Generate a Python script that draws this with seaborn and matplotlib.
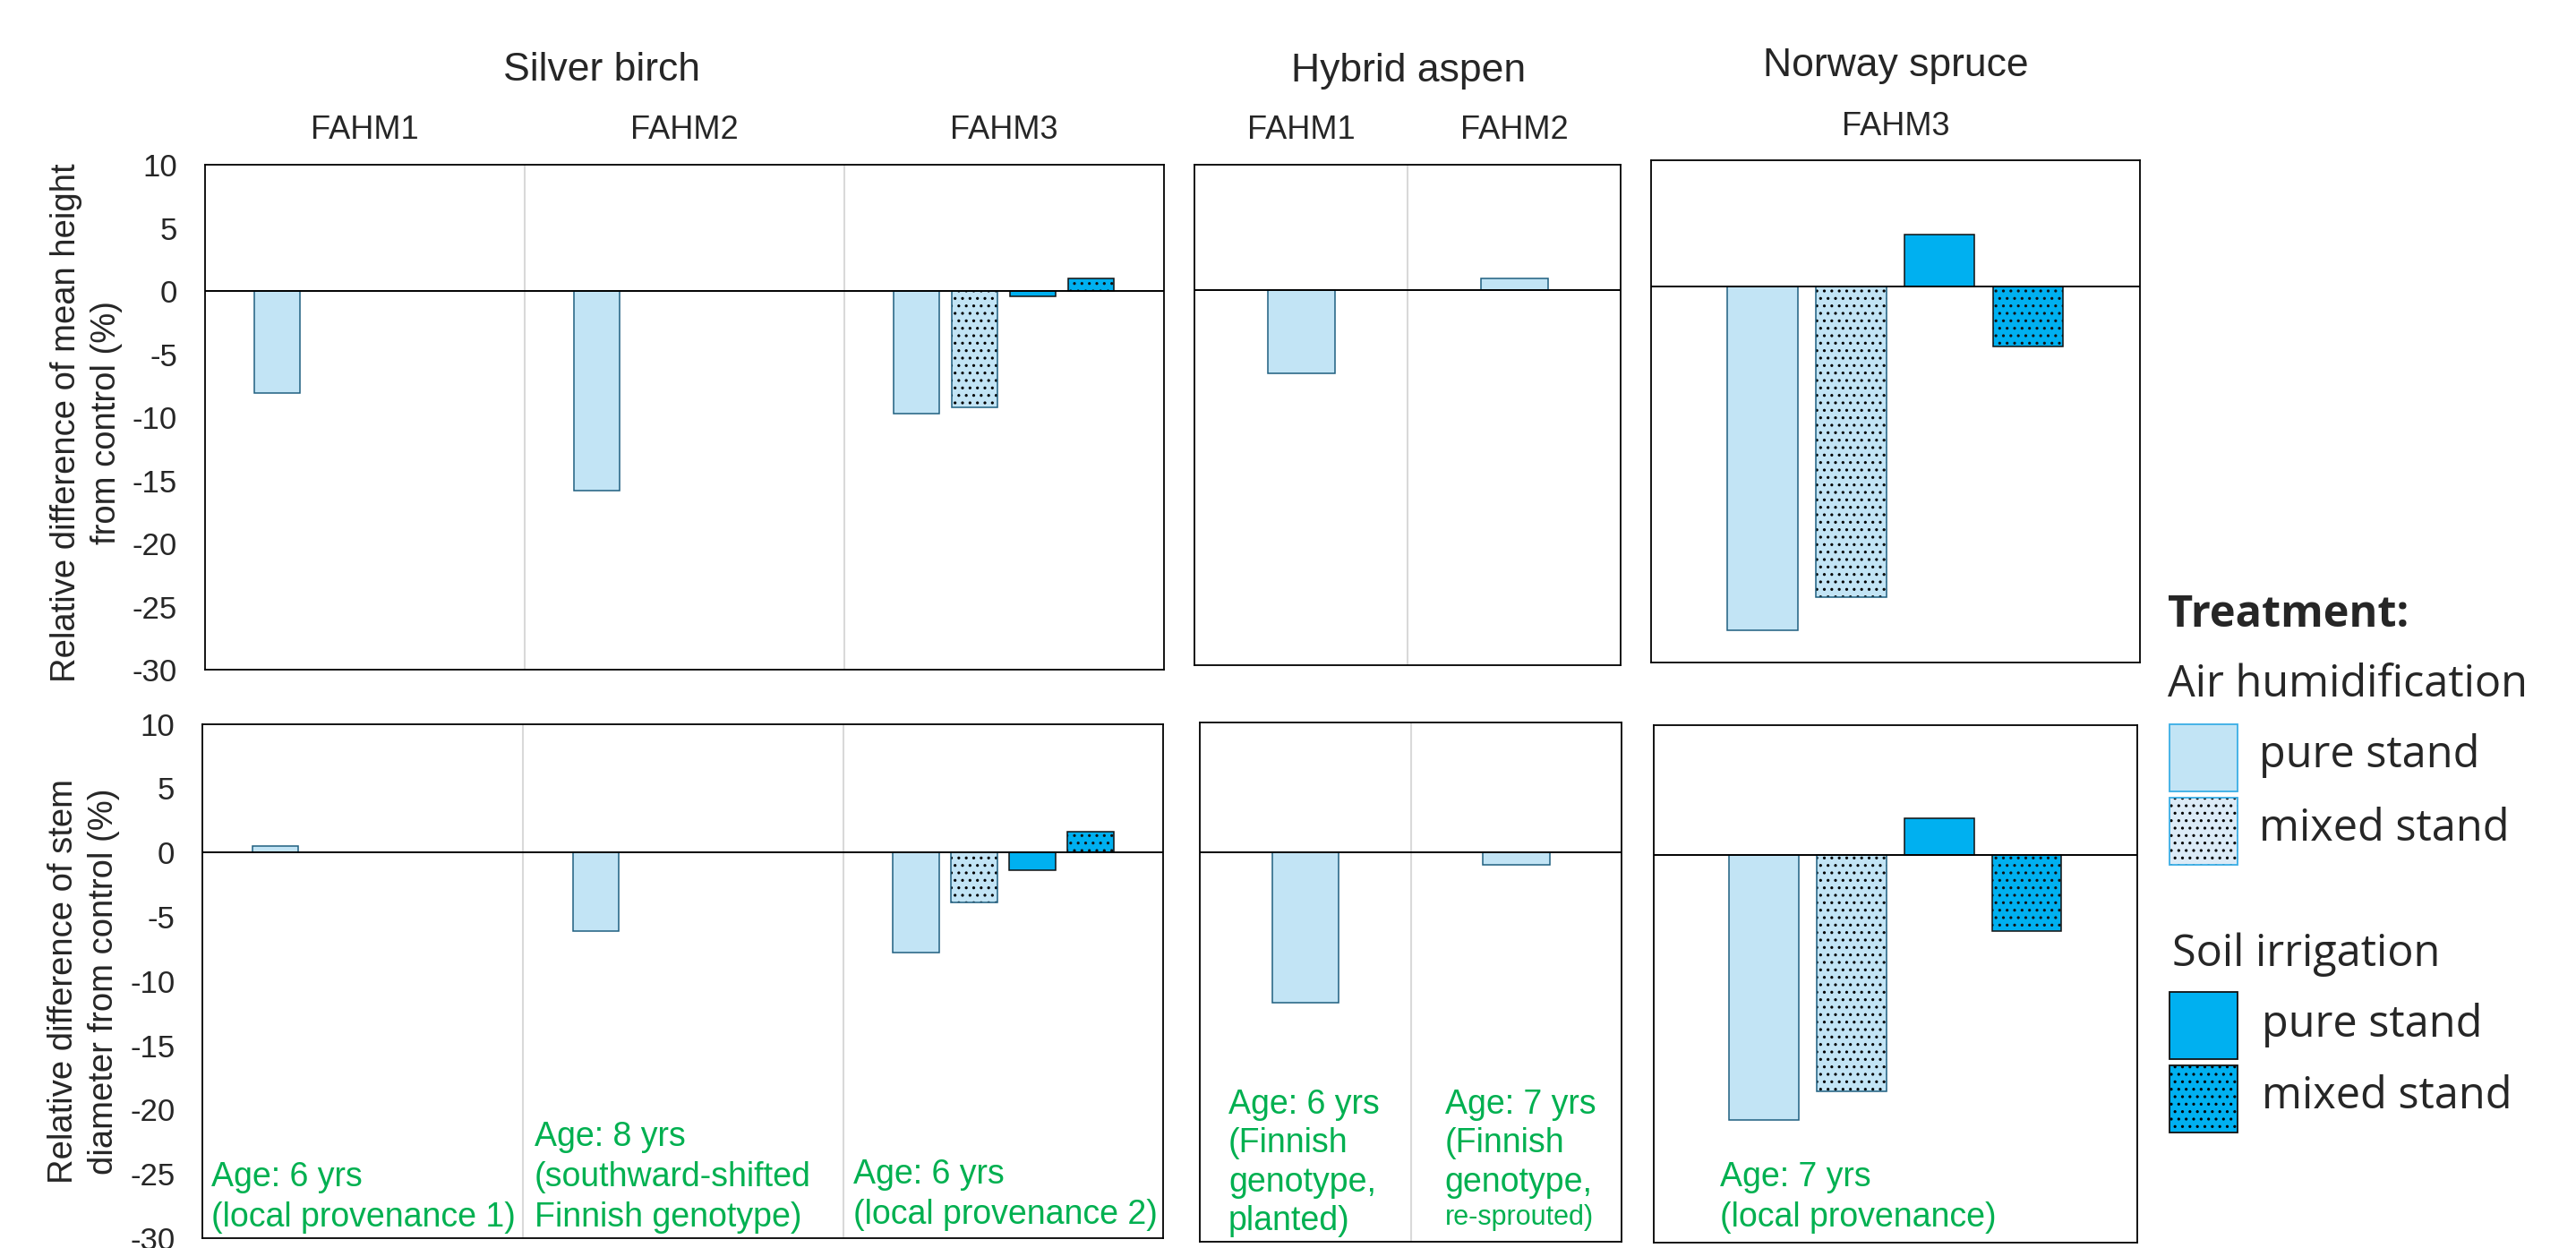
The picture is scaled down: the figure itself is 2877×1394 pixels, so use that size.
import matplotlib
matplotlib.use("Agg")
import matplotlib.pyplot as plt
from matplotlib.patches import Rectangle
import pandas as pd
import seaborn as sns

# ---------------------------------------------------------------- data
TREATMENTS = [
    "Air humidification, pure stand",
    "Air humidification, mixed stand",
    "Soil irrigation, pure stand",
    "Soil irrigation, mixed stand",
]
SPECIES = ["Silver birch", "Hybrid aspen", "Norway spruce"]
BIRCH_SITES = ["FAHM1", "FAHM2", "FAHM3"]
ASPEN_SITES = ["FAHM1", "FAHM2"]
SPRUCE_SITES = ["FAHM3"]

# relative difference of mean height from control (%)
birch_height_air_pure = [-8.1, -15.8, -9.7]
birch_height_air_mixed = [None, None, -9.2]
birch_height_soil_pure = [None, None, -0.4]
birch_height_soil_mixed = [None, None, 1.0]
aspen_height_air_pure = [-6.7, 0.9]
spruce_height_air_pure = [-27.4]
spruce_height_air_mixed = [-24.8]
spruce_height_soil_pure = [4.1]
spruce_height_soil_mixed = [-4.8]

# relative difference of stem diameter from control (%)
birch_diam_air_pure = [0.5, -6.1, -7.8]
birch_diam_air_mixed = [None, None, -3.9]
birch_diam_soil_pure = [None, None, -1.4]
birch_diam_soil_mixed = [None, None, 1.6]
aspen_diam_air_pure = [-11.6, -1.0]
spruce_diam_air_pure = [-20.5]
spruce_diam_air_mixed = [-18.3]
spruce_diam_soil_pure = [2.8]
spruce_diam_soil_mixed = [-5.9]

Y_TICKS = [10, 5, 0, -5, -10, -15, -20, -25, -30]
Y_LABELS = [
    "Relative difference of mean height\nfrom control (%)",
    "Relative difference of stem\ndiameter from control (%)",
]
BIRCH_AGES = [
    "Age: 6 yrs\n(local provenance 1)",
    "Age: 8 yrs\n(southward-shifted\nFinnish genotype)",
    "Age: 6 yrs\n(local provenance 2)",
]
ASPEN_AGES = ["Age: 6 yrs\n(Finnish\ngenotype,\nplanted)", "Age: 7 yrs\n(Finnish\ngenotype,"]
ASPEN_AGE_TAIL = "re-sprouted)"
SPRUCE_AGE = "Age: 7 yrs\n(local provenance)"


def long_frame(sites, columns):
    rows = []
    for trt, vals in zip(TREATMENTS, columns):
        for site, v in zip(sites, vals):
            if v is not None:
                rows.append({"site": site, "treatment": trt, "value": v})
    return pd.DataFrame(rows)


birch_h = long_frame(BIRCH_SITES, [birch_height_air_pure, birch_height_air_mixed,
                                   birch_height_soil_pure, birch_height_soil_mixed])
birch_d = long_frame(BIRCH_SITES, [birch_diam_air_pure, birch_diam_air_mixed,
                                   birch_diam_soil_pure, birch_diam_soil_mixed])
aspen_h = long_frame(ASPEN_SITES, [aspen_height_air_pure])
aspen_d = long_frame(ASPEN_SITES, [aspen_diam_air_pure])
spruce_h = long_frame(SPRUCE_SITES, [spruce_height_air_pure, spruce_height_air_mixed,
                                     spruce_height_soil_pure, spruce_height_soil_mixed])
spruce_d = long_frame(SPRUCE_SITES, [spruce_diam_air_pure, spruce_diam_air_mixed,
                                     spruce_diam_soil_pure, spruce_diam_soil_mixed])

# ---------------------------------------------------------------- style
sns.set_style("white")
plt.rcParams["font.family"] = ["Liberation Sans", "DejaVu Sans"]
plt.rcParams["hatch.linewidth"] = 1.1

AIR_FILL = "#C2E4F5"
AIR_EDGE = "#1F5F80"
SOIL_FILL = "#00B0F0"
SOIL_EDGE = "#111111"
GREEN = "#00B050"
GRID = "#D9D9D9"

STYLE = {
    TREATMENTS[0]: dict(fill=AIR_FILL, edge=AIR_EDGE, hatch=None),
    TREATMENTS[1]: dict(fill=AIR_FILL, edge=AIR_EDGE, hatch=".."),
    TREATMENTS[2]: dict(fill=SOIL_FILL, edge=SOIL_EDGE, hatch=None),
    TREATMENTS[3]: dict(fill=SOIL_FILL, edge=SOIL_EDGE, hatch=".."),
}

W, H, DPI = 2877, 1394, 100
fig = plt.figure(figsize=(W / DPI, H / DPI), dpi=DPI)


def px_axes(left, top, right, bottom):
    return fig.add_axes([left / W, 1 - bottom / H, (right - left) / W, (bottom - top) / H])


def draw_bars(ax, df, sites, hue_order, width, gap):
    palette = {t: STYLE[t]["fill"] for t in hue_order}
    for trt in hue_order:
        sub = df[df["treatment"] == trt]
        if sub.empty:
            continue
        st = STYLE[trt]
        n0 = len(ax.patches)
        kws = dict(data=sub, x="site", y="value", hue="treatment", order=sites,
                   hue_order=hue_order, palette=palette, saturation=1, dodge=True,
                   width=width, gap=gap, errorbar=None, legend=False, ax=ax, zorder=2)
        if st["hatch"] and st["edge"] != SOIL_EDGE:
            # black dots inside, coloured outline drawn on top
            sns.barplot(**kws, edgecolor="black", linewidth=0, hatch=st["hatch"])
            for p in ax.patches[n0:]:
                ax.add_patch(Rectangle(p.get_xy(), p.get_width(), p.get_height(),
                                       fill=False, edgecolor=st["edge"], linewidth=1.1,
                                       zorder=2.1))
        else:
            sns.barplot(**kws, edgecolor=st["edge"], linewidth=1.1, hatch=st["hatch"])
    ax.set_xlim(-0.5, len(sites) - 0.5)
    ax.set_ylim(-30, 10)
    for i in range(len(sites) - 1):
        ax.axvline(i + 0.5, color=GRID, lw=1.5, zorder=0.5)
    ax.axhline(0, color="black", lw=1.4, zorder=3)
    ax.set_xlabel("")
    ax.set_ylabel("")
    for s in ax.spines.values():
        s.set_color("black")
        s.set_linewidth(1.3)
        s.set_visible(True)


panels = [
    # (df, sites, hue_order, width, gap, box px, row, show y)
    (birch_h, BIRCH_SITES, TREATMENTS, 0.726, 0.21, (228.6, 184, 1299.5, 748.3), 0, True),
    (aspen_h, ASPEN_SITES, TREATMENTS[:1], 0.394, 0.2, (1334.4, 184, 1810, 742.9), 0, False),
    (spruce_h, SPRUCE_SITES, TREATMENTS, 0.726, 0.21, (1844.4, 179.4, 2389.5, 740.4), 0, False),
    (birch_d, BIRCH_SITES, TREATMENTS, 0.726, 0.21, (225.9, 808.6, 1299.5, 1383), 1, True),
    (aspen_d, ASPEN_SITES, TREATMENTS[:1], 0.394, 0.2, (1340, 807, 1811.4, 1386.9), 1, False),
    (spruce_d, SPRUCE_SITES, TREATMENTS, 0.726, 0.21, (1847.2, 810.1, 2386.6, 1387.7), 1, False),
]

axes = []
for df, sites, order, width, gap, box, row, show_y in panels:
    ax = px_axes(*box)
    draw_bars(ax, df, sites, order, width, gap)
    if show_y:
        ax.set_yticks(Y_TICKS)
        ax.set_yticklabels([str(t) for t in Y_TICKS])
        ax.tick_params(axis="y", length=0, pad=22, labelsize=25)
        ax.set_ylabel(Y_LABELS[row], fontsize=27.5, linespacing=1.3)
        ax.yaxis.set_label_coords(-0.086, 0.49 if row == 0 else 0.5)
    else:
        ax.tick_params(axis="y", left=False, labelleft=False, length=0)
    if row == 0:
        ax.xaxis.set_ticks_position("top")
        ax.tick_params(axis="x", top=True, labeltop=True, bottom=False,
                       labelbottom=False, length=0, pad=15, labelsize=26)
    else:
        ax.tick_params(axis="x", bottom=False, labelbottom=False, length=0)
    axes.append(ax)

# species headings
for name, xc, yc in zip(SPECIES, [672, 1573, 2117], [78, 79, 73]):
    fig.text(xc / W, 1 - yc / H, name, ha="center", va="center", fontsize=32)

# stand age notes inside the diameter panels
note = dict(color=GREEN, fontsize=27, ha="left", va="top", linespacing=1.33)
for txt, x, y in zip(BIRCH_AGES, [235.7, 596.7, 952.8], [1297, 1252, 1294]):
    fig.text(x / W, 1 - y / H, txt, **note)
aspen_note = dict(note, linespacing=1.26)
fig.text(1372 / W, 1 - 1216 / H, ASPEN_AGES[0], **aspen_note)
fig.text(1613.6 / W, 1 - 1216 / H, ASPEN_AGES[1], **aspen_note)
fig.text(1613.6 / W, 1 - 1345 / H, ASPEN_AGE_TAIL, color=GREEN, fontsize=22,
         ha="left", va="top")
fig.text(1920.8 / W, 1 - 1297 / H, SPRUCE_AGE, **note)

# treatment key
LEG_FONT = ["Open Sans", "DejaVu Sans"]
LEG_SIZE = 35
LEG_EDGE_AIR = "#3AAEE5"
LEG_MIXED_AIR = "#DCEBF7"


def key_box(top, fill, edge, hatch):
    x0, w, h = 2423, 76, 75
    xy = (x0 / W, 1 - (top + h) / H)
    size = (w / W, h / H)
    if hatch:
        fig.add_artist(Rectangle(xy, *size, transform=fig.transFigure, facecolor=fill,
                                 edgecolor="black", linewidth=0, hatch=hatch))
        fig.add_artist(Rectangle(xy, *size, transform=fig.transFigure, fill=False,
                                 edgecolor=edge, linewidth=1.3))
    else:
        fig.add_artist(Rectangle(xy, *size, transform=fig.transFigure, facecolor=fill,
                                 edgecolor=edge, linewidth=1.3))


def key_text(x, y, txt, **kw):
    fig.text(x / W, 1 - y / H, txt, fontsize=LEG_SIZE, family=LEG_FONT,
             va="baseline", **kw)


key_text(2421, 699.5, "Treatment:", fontweight="bold")
key_text(2421, 778.5, "Air humidification")
key_box(808.8, AIR_FILL, LEG_EDGE_AIR, None)
key_box(891, LEG_MIXED_AIR, LEG_EDGE_AIR, "..")
key_text(2523, 857, "pure stand")
key_text(2523, 939, "mixed stand")
key_text(2425.6, 1079, "Soil irrigation")
key_box(1108, SOIL_FILL, SOIL_EDGE, None)
key_box(1190, SOIL_FILL, SOIL_EDGE, "..")
key_text(2526.5, 1158, "pure stand")
key_text(2526.5, 1238, "mixed stand")

fig.savefig("out.png", dpi=DPI)
